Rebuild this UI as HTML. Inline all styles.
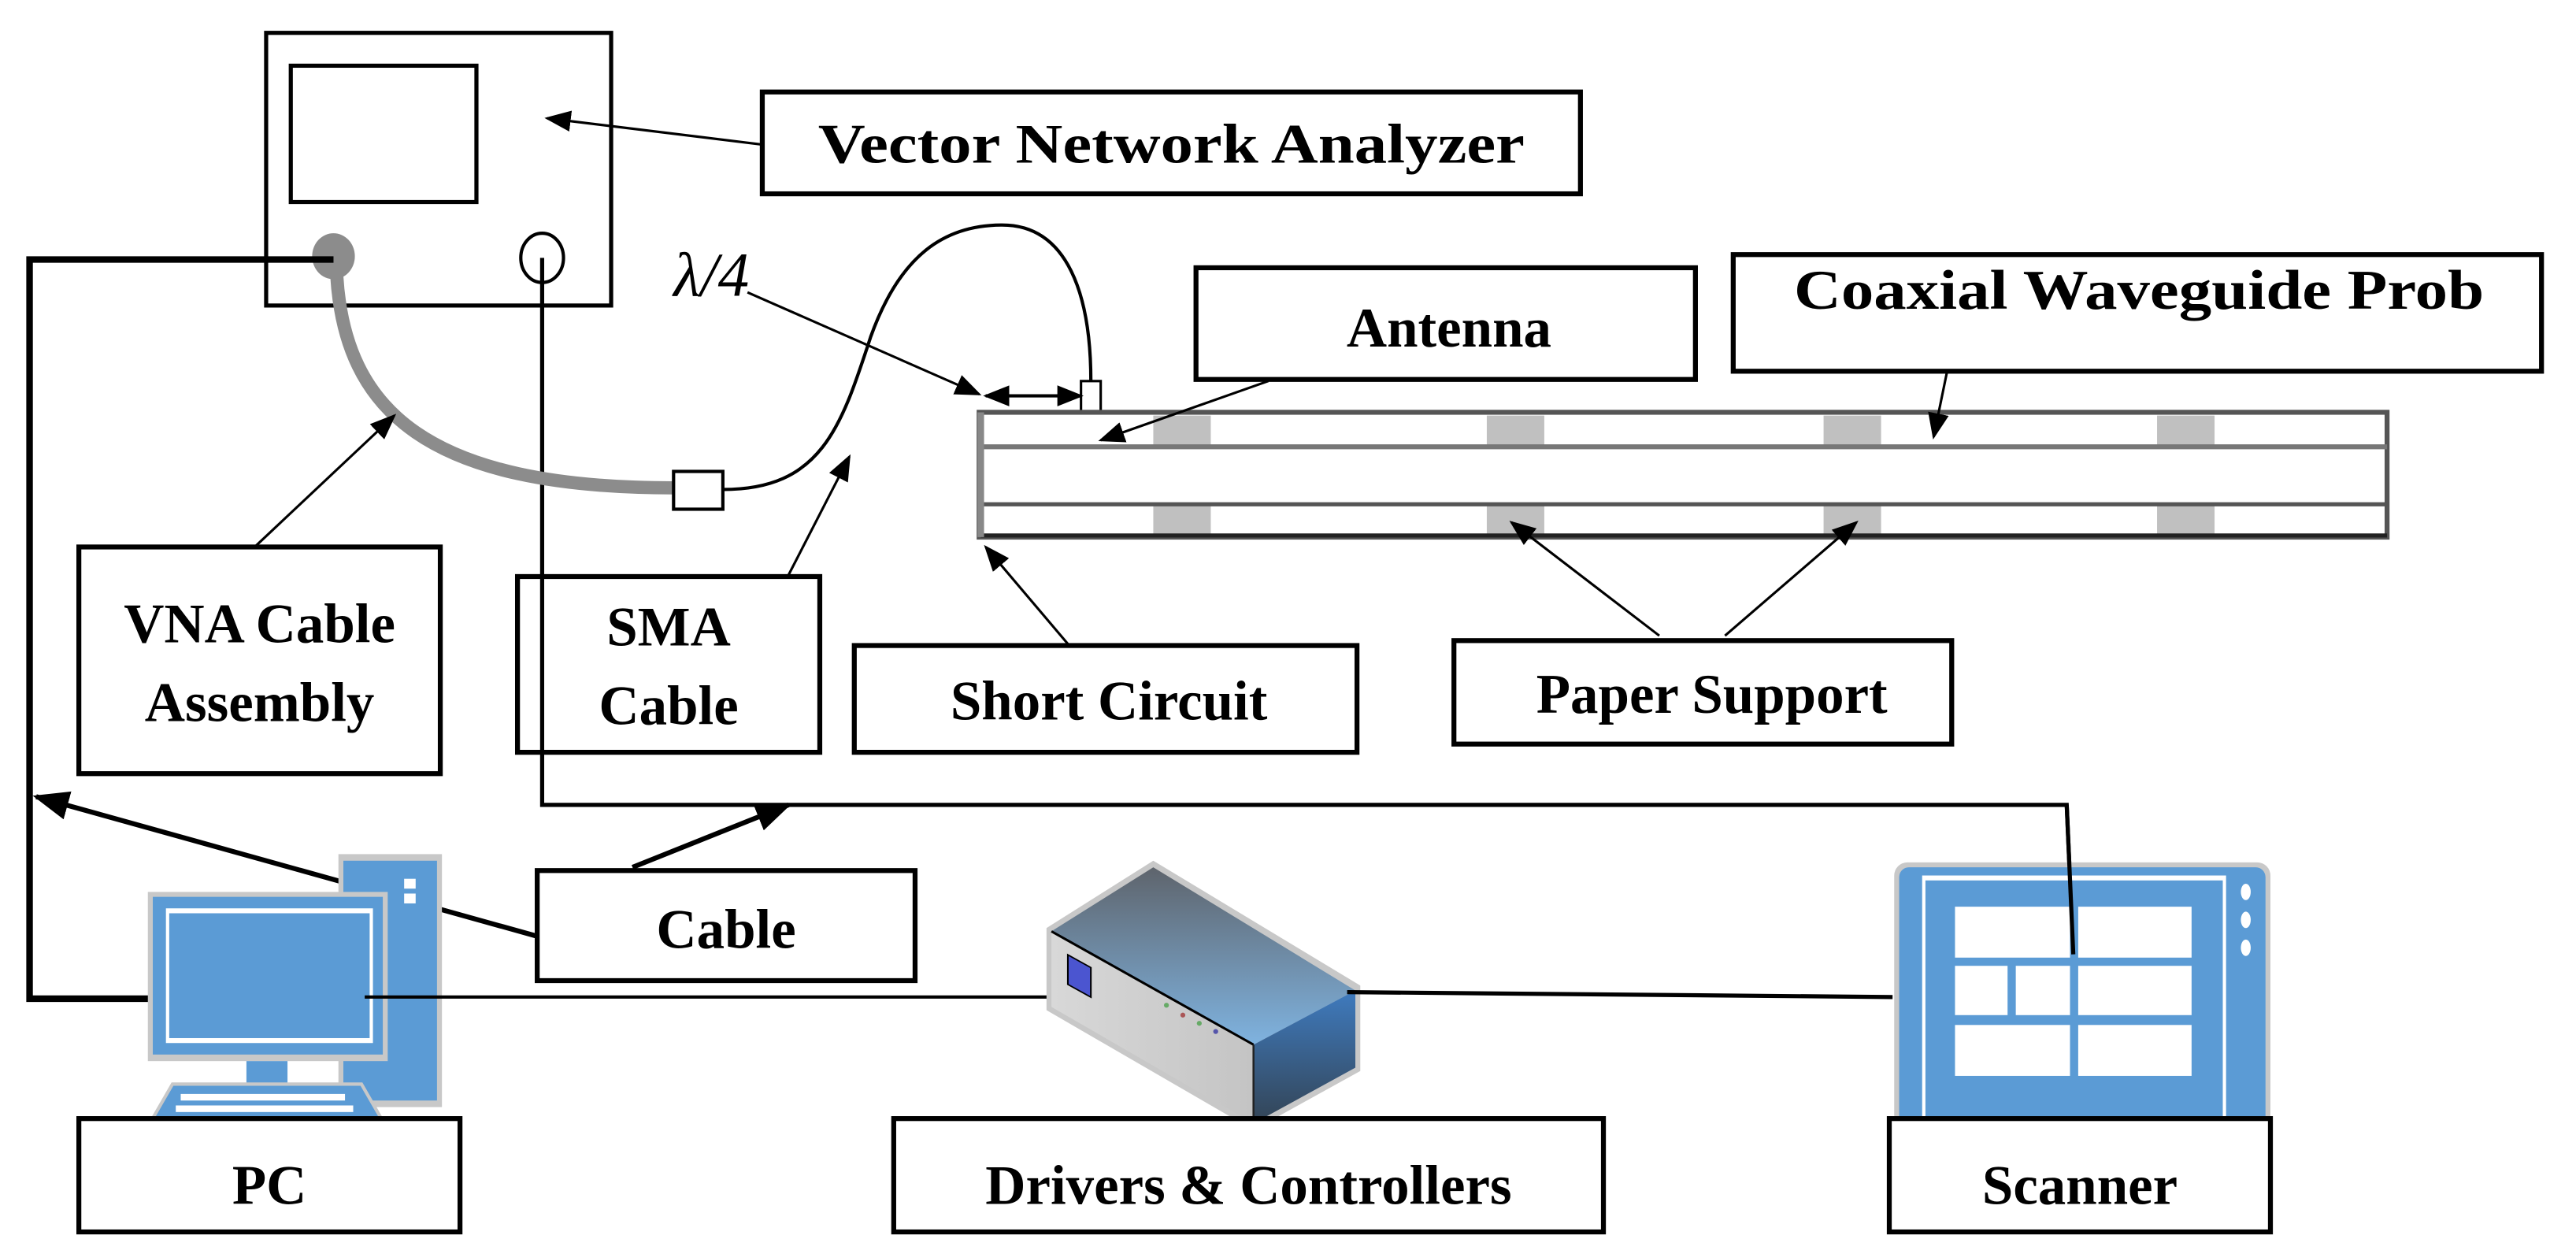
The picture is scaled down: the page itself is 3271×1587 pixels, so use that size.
<!DOCTYPE html>
<html><head><meta charset="utf-8"><style>
html,body{margin:0;padding:0;background:#fff;width:3271px;height:1587px;overflow:hidden}
svg{display:block}
text{font-family:"Liberation Serif",serif;font-weight:bold;font-size:34px;fill:#000;text-anchor:middle}
</style></head><body>
<svg width="3271" height="1587" viewBox="0 0 1568 761" preserveAspectRatio="none" xmlns="http://www.w3.org/2000/svg">
<defs>
<marker id="ah" viewBox="0 0 10 10" refX="9" refY="5" markerWidth="8" markerHeight="8" orient="auto-start-reverse" markerUnits="userSpaceOnUse"><path d="M0,0 L10,5 L0,10 z" fill="#000"/></marker>
<marker id="ahb" viewBox="0 0 10 10" refX="9" refY="5" markerWidth="22" markerHeight="22" orient="auto" markerUnits="userSpaceOnUse"><path d="M0,1 L10,5 L0,9 z" fill="#000"/></marker>
<marker id="ahm" viewBox="0 0 10 10" refX="9" refY="5" markerWidth="16" markerHeight="16" orient="auto-start-reverse" markerUnits="userSpaceOnUse"><path d="M0,1 L10,5 L0,9 z" fill="#000"/></marker>
<linearGradient id="tg" x1="0" y1="0" x2="0" y2="1"><stop offset="0" stop-color="#5e646c"/><stop offset="1" stop-color="#7fb3e0"/></linearGradient>
<linearGradient id="rg" x1="0" y1="0" x2="0" y2="1"><stop offset="0" stop-color="#3f7bbf"/><stop offset="1" stop-color="#334455"/></linearGradient>
<linearGradient id="lg" x1="0" y1="0" x2="1" y2="0"><stop offset="0" stop-color="#d8d8d8"/><stop offset="1" stop-color="#c4c4c4"/></linearGradient>
</defs>

<!-- VNA -->
<rect x="162" y="20" width="210" height="166" fill="#fff" stroke="#000" stroke-width="2.5"/>
<rect x="177" y="40" width="113" height="83" fill="#fff" stroke="#000" stroke-width="2.5"/>
<ellipse cx="203" cy="156" rx="13" ry="14" fill="#8c8c8c"/>
<ellipse cx="330" cy="157" rx="13" ry="15" fill="none" stroke="#000" stroke-width="2"/>

<!-- VNA label -->
<rect x="464" y="56" width="498" height="62" fill="#fff" stroke="#000" stroke-width="3"/>
<text x="713" y="99" textLength="430" lengthAdjust="spacingAndGlyphs">Vector Network Analyzer</text>
<line x1="464" y1="88" x2="333" y2="72" stroke="#000" stroke-width="1.5" marker-end="url(#ahm)"/>

<!-- black PC-VNA line -->
<polyline points="178,608 18,608 18,158 203,158" fill="none" stroke="#000" stroke-width="4"/>
<!-- PC-scanner line via VNA circle -->
<polyline points="330,157 330,490 1258,490 1262,581" fill="none" stroke="#000" stroke-width="2.5"/>

<!-- VNA cable gray -->
<path d="M205,168 C210,250 260,297 410,297" fill="none" stroke="#8c8c8c" stroke-width="8"/>
<rect x="410" y="287" width="30" height="23" fill="#fff" stroke="#000" stroke-width="2"/>
<!-- SMA cable -->
<path d="M440,298 C500,298 512,260 530,205 C548,155 575,137 610,137 C650,137 664,180 664,232" fill="none" stroke="#000" stroke-width="2"/>
<rect x="658" y="232" width="12" height="20" fill="#fff" stroke="#000" stroke-width="1.5"/>
<line x1="664" y1="252" x2="664" y2="272" stroke="#000" stroke-width="1.5"/>

<!-- lambda/4 -->
<text x="433" y="180" style="font-weight:normal;font-style:italic;font-size:38px">λ/4</text>
<line x1="455" y1="178" x2="596" y2="240" stroke="#000" stroke-width="1.5" marker-end="url(#ahm)"/>
<line x1="600" y1="241" x2="658" y2="241" stroke="#000" stroke-width="2" marker-start="url(#ahm)" marker-end="url(#ahm)"/>

<!-- waveguide -->
<rect x="596" y="251" width="857" height="76" fill="#fff" stroke="#555" stroke-width="3"/>
<g fill="#c0c0c0">
<rect x="702" y="253" width="35" height="19"/><rect x="905" y="253" width="35" height="19"/><rect x="1110" y="253" width="35" height="19"/><rect x="1313" y="253" width="35" height="19"/>
<rect x="702" y="307" width="35" height="19"/><rect x="905" y="307" width="35" height="19"/><rect x="1110" y="307" width="35" height="19"/><rect x="1313" y="307" width="35" height="19"/>
</g>
<line x1="597" y1="272" x2="1453" y2="272" stroke="#777" stroke-width="3"/>
<line x1="597" y1="307" x2="1453" y2="307" stroke="#555" stroke-width="2.5"/>
<line x1="597" y1="326" x2="1453" y2="326" stroke="#222" stroke-width="2.5"/>
<line x1="597" y1="251" x2="597" y2="327" stroke="#888" stroke-width="4"/>

<!-- Antenna -->
<rect x="728" y="163" width="304" height="68" fill="#fff" stroke="#000" stroke-width="3"/>
<text x="882" y="211">Antenna</text>
<line x1="772" y1="232" x2="670" y2="268" stroke="#000" stroke-width="1.5" marker-end="url(#ahm)"/>

<!-- Coaxial -->
<rect x="1055" y="155" width="492" height="71" fill="#fff" stroke="#000" stroke-width="3"/>
<text x="1302" y="188" textLength="420" lengthAdjust="spacingAndGlyphs">Coaxial Waveguide Prob</text>
<line x1="1185" y1="227" x2="1177" y2="266" stroke="#000" stroke-width="1.5" marker-end="url(#ahm)"/>

<!-- Short circuit -->
<rect x="520" y="393" width="306" height="65" fill="#fff" stroke="#000" stroke-width="3"/>
<text x="675" y="438">Short Circuit</text>
<line x1="650" y1="392" x2="600" y2="333" stroke="#000" stroke-width="1.5" marker-end="url(#ahm)"/>

<!-- Paper support -->
<rect x="885" y="390" width="303" height="63" fill="#fff" stroke="#000" stroke-width="3"/>
<text x="1042" y="434">Paper Support</text>
<line x1="1010" y1="387" x2="920" y2="318" stroke="#000" stroke-width="1.5" marker-end="url(#ahm)"/>
<line x1="1050" y1="387" x2="1130" y2="318" stroke="#000" stroke-width="1.5" marker-end="url(#ahm)"/>

<!-- VNA Cable Assembly -->
<rect x="48" y="333" width="220" height="138" fill="#fff" stroke="#000" stroke-width="3"/>
<text x="158" y="391">VNA Cable</text>
<text x="158" y="439">Assembly</text>
<line x1="155" y1="333" x2="240" y2="253" stroke="#000" stroke-width="1.5" marker-end="url(#ahm)"/>

<!-- SMA Cable -->
<rect x="315" y="351" width="184" height="107" fill="#fff" stroke="#000" stroke-width="3"/>
<line x1="330" y1="351" x2="330" y2="458" stroke="#000" stroke-width="2.5"/>
<text x="407" y="393">SMA</text>
<text x="407" y="441">Cable</text>
<line x1="480" y1="350" x2="517" y2="278" stroke="#000" stroke-width="1.5" marker-end="url(#ahm)"/>

<!-- Cable label -->
<rect x="327" y="530" width="230" height="67" fill="#fff" stroke="#000" stroke-width="3"/>
<text x="442" y="577">Cable</text>
<line x1="327" y1="570" x2="22" y2="485" stroke="#000" stroke-width="3" marker-end="url(#ahb)"/>
<line x1="385" y1="528" x2="480" y2="490" stroke="#000" stroke-width="3" marker-end="url(#ahb)"/>

<!-- PC icon -->
<rect x="206" y="520" width="63" height="154" fill="#c8c8c8"/>
<rect x="209" y="524" width="57" height="146" fill="#5b9bd5"/>
<rect x="246" y="535" width="7" height="6" fill="#fff"/>
<rect x="246" y="544" width="7" height="6" fill="#fff"/>
<rect x="90" y="543" width="146" height="103" fill="#c8c8c8"/>
<rect x="93" y="546" width="140" height="96" fill="#5b9bd5"/>
<rect x="101" y="553" width="126" height="82" fill="#fff"/>
<rect x="103" y="556" width="122" height="76" fill="#5b9bd5"/>
<rect x="150" y="646" width="25" height="16" fill="#5b9bd5"/>
<polygon points="105,660 220,660 235,686 90,686" fill="#5b9bd5" stroke="#c8c8c8" stroke-width="2"/>
<g fill="#fff"><rect x="110" y="666" width="100" height="4"/><rect x="107" y="673" width="108" height="4"/><rect x="135" y="680" width="52" height="5"/></g>
<line x1="222" y1="607" x2="733" y2="607" stroke="#000" stroke-width="2"/>

<!-- Drivers device -->
<polygon points="702,524 828,600 828,652 763,688 637,615 637,565" fill="#c8c8c8"/>
<polygon points="640,567 763,636 763,684 640,613" fill="url(#lg)"/>
<polygon points="702,528 825,603 763,636 640,567" fill="url(#tg)"/>
<polygon points="763,636 825,603 825,650 763,684" fill="url(#rg)"/>
<line x1="640" y1="567" x2="763" y2="636" stroke="#000" stroke-width="1.5"/>
<line x1="763" y1="636" x2="763" y2="684" stroke="#222" stroke-width="1.2"/>
<rect x="650" y="578" width="14" height="18" fill="#4b55d0" stroke="#000" transform="skewY(29) translate(0,-357)"/>
<g fill="#6a6" ><circle cx="710" cy="612" r="1.5"/><circle cx="720" cy="618" r="1.5" fill="#a55"/><circle cx="730" cy="623" r="1.5"/><circle cx="740" cy="628" r="1.5" fill="#55a"/></g>
<line x1="820" y1="604" x2="1152" y2="607" stroke="#000" stroke-width="2.5"/>

<!-- Scanner -->
<rect x="1153" y="525" width="229" height="162" rx="8" fill="#c8c8c8"/>
<rect x="1156" y="528" width="223" height="158" rx="6" fill="#5b9bd5"/>
<rect x="1170" y="533" width="185" height="150" fill="#fff"/>
<rect x="1172" y="536" width="181" height="144" fill="#5b9bd5"/>
<g fill="#fff">
<rect x="1190" y="552" width="70" height="31"/><rect x="1265" y="552" width="69" height="31"/>
<rect x="1190" y="588" width="32" height="30"/><rect x="1227" y="588" width="33" height="30"/><rect x="1265" y="588" width="69" height="30"/>
<rect x="1190" y="624" width="70" height="31"/><rect x="1265" y="624" width="69" height="31"/>
<ellipse cx="1367" cy="543" rx="3" ry="5"/><ellipse cx="1367" cy="560" rx="3" ry="5"/><ellipse cx="1367" cy="577" rx="3" ry="5"/>
</g>
<line x1="1258" y1="490" x2="1262" y2="581" stroke="#000" stroke-width="2.5"/>

<!-- bottom labels -->
<rect x="48" y="681" width="232" height="69" fill="#fff" stroke="#000" stroke-width="3"/>
<text x="164" y="733">PC</text>
<rect x="544" y="681" width="432" height="69" fill="#fff" stroke="#000" stroke-width="3"/>
<text x="760" y="733">Drivers &amp; Controllers</text>
<rect x="1150" y="681" width="232" height="69" fill="#fff" stroke="#000" stroke-width="3"/>
<text x="1266" y="733">Scanner</text>
</svg>
</body></html>
